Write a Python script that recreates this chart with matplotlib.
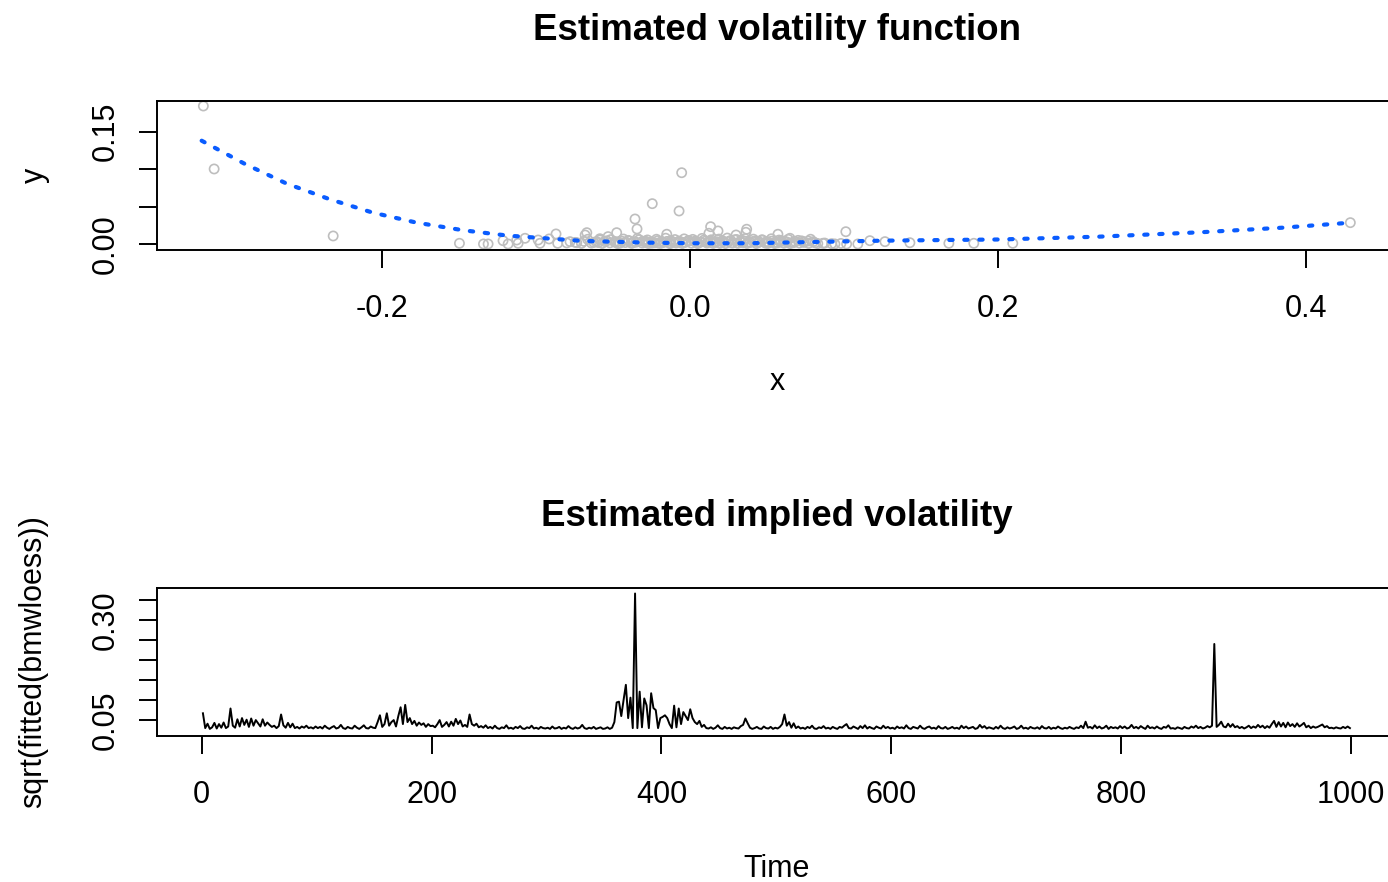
import matplotlib
matplotlib.use("Agg")
import matplotlib.pyplot as plt

W, H = 1388, 882

# --- top panel: x = lagged return, y = squared return
outX = [-0.316, -0.309, -0.2317, -0.1497, -0.1341, -0.1311, -0.1214, -0.1181, -0.1125, -0.1116,
        -0.1071, -0.0986, -0.0974, -0.0915, -0.087, -0.0859, -0.0779, -0.0735, -0.0681, -0.067,
        -0.0584, -0.0532, -0.0476, -0.0357, -0.0344, -0.0245, -0.0151, -0.0071, -0.0054, 0.0123,
        0.0134, 0.0182, 0.0299, 0.0363, 0.0368, 0.0571, 0.0649, 0.0783, 0.0863, 0.0941,
        0.1012, 0.1017, 0.109, 0.1168, 0.1266, 0.1428, 0.1681, 0.1843, 0.2096, 0.4288]
outY = [0.1845, 0.1003, 0.0107, 0.0009, 0.0, 0.0, 0.0044, 0.0, 0.0053, 0.0009,
        0.0076, 0.0053, 0.0009, 0.0067, 0.0134, 0.0009, 0.0031, 0.0017, 0.012, 0.0151,
        0.0053, 0.0098, 0.0151, 0.0334, 0.0201, 0.0539, 0.013, 0.0441, 0.0953, 0.0143,
        0.0231, 0.0174, 0.012, 0.0156, 0.0197, 0.013, 0.0076, 0.0063, 0.0009, 0.0,
        0.0164, 0.0, 0.0, 0.0044, 0.0031, 0.0017, 0.0009, 0.0009, 0.0009, 0.0285]

# the dense grey band near zero
clusterX = [-0.064, -0.061, -0.057, -0.054, -0.052, -0.049, -0.047, -0.044, -0.042, -0.040,
            -0.038, -0.035, -0.033, -0.031, -0.029, -0.027, -0.025, -0.023, -0.021, -0.019,
            -0.017, -0.015, -0.013, -0.011, -0.009, -0.007, -0.005, -0.003, -0.001, 0.001,
            0.003, 0.005, 0.007, 0.009, 0.011, 0.013, 0.015, 0.017, 0.019, 0.021,
            0.023, 0.025, 0.027, 0.029, 0.031, 0.033, 0.035, 0.037, 0.039, 0.041,
            0.043, 0.045, 0.047, 0.049, 0.051, 0.053, 0.055, 0.057, 0.059, 0.061,
            0.063, 0.065, 0.068, 0.071, 0.074, 0.077, 0.080, 0.083,
            -0.0595, -0.0455, -0.0365, -0.0285, -0.0205, -0.0125, -0.0045, 0.0035, 0.0115, 0.0195,
            0.0265, 0.0345, 0.0425, 0.0505, 0.0585, 0.0665, -0.0705, -0.0745, 0.0725, 0.0875,
            0.092, -0.080, 0.098,
            -0.069, -0.0665, -0.0625, -0.0585, -0.0555, -0.0515, -0.0478, -0.0432, -0.0398, -0.0372,
            -0.0342, -0.0308, -0.0276, -0.0248, -0.0218, -0.0186, -0.0158, -0.0132, -0.0098, -0.0072,
            -0.0038, -0.0012, 0.0018, 0.0046, 0.0078, 0.0102, 0.0138, 0.0162, 0.0188, 0.0218,
            0.0242, 0.0278, 0.0302, 0.0328, 0.0358, 0.0388, 0.0412, 0.0442, 0.0468, 0.0498,
            0.0528, 0.0552, 0.0578, 0.0612, 0.0638, 0.0672, 0.0702, 0.0738, 0.0768, 0.0812]
clusterY = [0.0012, 0.0031, 0.0008, 0.0042, 0.0015, 0.0027, 0.0006, 0.0035, 0.0019, 0.0048,
            0.0010, 0.0024, 0.0057, 0.0013, 0.0038, 0.0007, 0.0029, 0.0016, 0.0044, 0.0009,
            0.0021, 0.0034, 0.0005, 0.0026, 0.0014, 0.0039, 0.0008, 0.0022, 0.0046, 0.0011,
            0.0030, 0.0006, 0.0025, 0.0052, 0.0013, 0.0036, 0.0009, 0.0028, 0.0017, 0.0043,
            0.0007, 0.0032, 0.0015, 0.0055, 0.0010, 0.0024, 0.0040, 0.0008, 0.0019, 0.0033,
            0.0006, 0.0027, 0.0049, 0.0012, 0.0021, 0.0037, 0.0007, 0.0016, 0.0045, 0.0011,
            0.0026, 0.0006, 0.0034, 0.0013, 0.0022, 0.0008, 0.0030, 0.0005,
            0.0019, 0.0011, 0.0031, 0.0020, 0.0012, 0.0043, 0.0017, 0.0040, 0.0021, 0.0009,
            0.0047, 0.0016, 0.0041, 0.0008, 0.0029, 0.0018, 0.0008, 0.0021, 0.0041, 0.0012,
            0.0004, 0.0014, 0.0007,
            0.0035, 0.0062, 0.0021, 0.0070, 0.0033, 0.0058, 0.0024, 0.0066, 0.0041, 0.0015,
            0.0072, 0.0036, 0.0054, 0.0012, 0.0063, 0.0030, 0.0077, 0.0018, 0.0059, 0.0026,
            0.0068, 0.0035, 0.0061, 0.0019, 0.0074, 0.0039, 0.0056, 0.0022, 0.0065, 0.0031,
            0.0079, 0.0014, 0.0060, 0.0037, 0.0071, 0.0025, 0.0064, 0.0018, 0.0057, 0.0033,
            0.0069, 0.0021, 0.0052, 0.0038, 0.0062, 0.0017, 0.0048, 0.0027, 0.0039, 0.0015]

# loess fit
fitX = [-0.3171, -0.2890, -0.2619, -0.2338, -0.2060, -0.1775, -0.1472, -0.1180, -0.0995, -0.0695,
        -0.026, 0.002, 0.039, 0.082, 0.125, 0.1666, 0.201, 0.266, 0.331, 0.385, 0.424]
fitY = [0.1381, 0.1070, 0.0807, 0.0597, 0.0419, 0.0285, 0.0183, 0.0111, 0.0084, 0.0040,
        0.0017, 0.001, 0.001, 0.0027, 0.0044, 0.0053, 0.0060, 0.0098, 0.0156, 0.0218, 0.0277]

# --- bottom panel: sqrt(fitted(bmwloess)), one value every 2nd time step
timeIdx = list(range(1, 1000, 2))
vol = [
    .067, .030, .041, .028, .032, .043, .029, .040, .031, .044, .030, .034, .079, .036, .031, .052, .034, .055, .038, .051, .033, .054, .036, .050, .042,
    .034, .052, .036, .044, .038, .033, .036, .030, .035, .064, .037, .031, .043, .032, .041, .030, .033, .029, .034, .031, .036, .030, .032, .029, .034,
    .030, .033, .029, .036, .031, .028, .032, .035, .029, .031, .038, .030, .028, .033, .030, .029, .036, .031, .028, .032, .037, .030, .029, .034, .031,
    .030, .045, .062, .033, .040, .067, .036, .045, .050, .034, .060, .082, .040, .088, .045, .055, .040, .048, .036, .044, .038, .042, .033, .040, .035,
    .036, .032, .040, .050, .033, .038, .045, .034, .046, .036, .053, .040, .049, .034, .038, .033, .064, .040, .036, .041, .032, .035, .031, .037, .030,
    .033, .029, .036, .030, .028, .032, .030, .037, .029, .031, .028, .033, .030, .035, .029, .028, .032, .030, .036, .029, .031, .028, .033, .030, .029,
    .031, .028, .034, .029, .030, .033, .028, .031, .029, .035, .030, .028, .032, .029, .031, .038, .030, .028, .031, .029, .033, .028, .030, .032, .028,
    .029, .032, .028, .031, .045, .094, .096, .060, .100, .138, .055, .106, .030, .366, .030, .121, .032, .104, .087, .030, .117, .080, .075, .030, .055,
    .058, .062, .055, .040, .030, .086, .032, .079, .040, .070, .060, .050, .077, .055, .045, .040, .048, .033, .038, .030, .029, .032, .028, .031, .037,
    .030, .028, .033, .029, .031, .028, .032, .030, .029, .035, .038, .054, .042, .031, .028, .030, .033, .029, .028, .034, .030, .029, .033, .028, .031,
    .029, .033, .040, .064, .036, .045, .031, .042, .030, .034, .029, .031, .028, .033, .030, .036, .029, .028, .032, .030, .035, .029, .031, .028, .033,
    .030, .028, .033, .031, .036, .040, .030, .029, .034, .031, .028, .035, .030, .037, .029, .033, .030, .028, .034, .031, .029, .036, .030, .033, .029,
    .031, .028, .034, .030, .032, .029, .037, .030, .028, .033, .031, .029, .036, .030, .028, .032, .034, .029, .031, .028, .035, .030, .029, .033, .028,
    .030, .033, .029, .031, .028, .036, .030, .034, .029, .031, .033, .028, .030, .038, .031, .035, .029, .032, .030, .028, .033, .029, .036, .030, .028,
    .032, .029, .031, .034, .028, .030, .036, .029, .031, .028, .033, .030, .029, .032, .028, .035, .030, .029, .033, .028, .031, .029, .034, .030, .028,
    .031, .029, .033, .030, .028, .032, .030, .036, .030, .046, .031, .033, .029, .037, .030, .034, .029, .031, .036, .028, .033, .030, .032, .029, .035,
    .030, .034, .029, .031, .038, .030, .033, .029, .035, .031, .028, .036, .030, .032, .029, .034, .030, .028, .033, .031, .037, .029, .030, .028, .032,
    .030, .028, .033, .030, .029, .034, .031, .036, .030, .033, .029, .031, .035, .032, .036, .240, .033, .038, .046, .034, .032, .041, .033, .040, .032,
    .035, .030, .033, .029, .032, .036, .030, .034, .031, .038, .032, .036, .030, .035, .031, .040, .048, .033, .045, .034, .043, .032, .044, .035, .040,
    .033, .042, .034, .038, .043, .032, .036, .030, .034, .031, .033, .036, .039, .032, .035, .030, .031, .029, .032, .030, .029, .033, .030, .034, .030,
]

topXTicks = [-0.2, 0.0, 0.2, 0.4]
topXLabels = ["-0.2", "0.0", "0.2", "0.4"]
topYTicks = [0.0, 0.05, 0.10, 0.15]
topYLabels = ["0.00", "", "", "0.15"]
botXTicks = [0, 200, 400, 600, 800, 1000]
botYTicks = [0.05, 0.10, 0.15, 0.20, 0.25, 0.30, 0.35]
botYLabels = ["0.05", "", "", "", "", "0.30", ""]

plt.rcParams['font.family'] = ['Liberation Sans', 'DejaVu Sans']
plt.rcParams['axes.linewidth'] = 1.4


def fx(px):
    return px / W


def fy(py):
    return 1 - py / H


def styleAxis(ax):
    ax.tick_params(direction='out', length=13, width=1.4, labelsize=22, colors='black')
    ax.tick_params(axis='x', pad=19)
    ax.tick_params(axis='y', pad=13)
    for lab in ax.get_yticklabels():
        lab.set_rotation(90)
        lab.set_va('center')


fig = plt.figure(figsize=(W / 100, H / 100), dpi=100)

# top: estimated volatility function
ax1 = fig.add_axes([fx(157), fy(249.5), fx(1397) - fx(157), fy(101) - fy(249.5)])
ax1.scatter(outX + clusterX, outY + clusterY, s=44, facecolors='none',
            edgecolors='#bebebe', linewidths=1.2, zorder=2)
ax1.plot(fitX, fitY, color='#0a5cff', lw=3, dashes=(0.8, 2.8),
         dash_capstyle='round', zorder=3)
ax1.set_xlim(-0.3461, 0.4591)
ax1.set_ylim(-0.0074, 0.1912)
ax1.set_xticks(topXTicks)
ax1.set_xticklabels(topXLabels)
ax1.set_yticks(topYTicks)
ax1.set_yticklabels(topYLabels)
styleAxis(ax1)

# bottom: estimated implied volatility
ax2 = fig.add_axes([fx(157), fy(736), fx(1397) - fx(157), fy(588) - fy(736)])
ax2.plot(timeIdx, vol, color='black', lw=1.4)
ax2.set_xlim(-38.96, 1039.96)
ax2.set_ylim(0.0103, 0.3797)
ax2.set_xticks(botXTicks)
ax2.set_xticklabels([str(t) for t in botXTicks])
ax2.set_yticks(botYTicks)
ax2.set_yticklabels(botYLabels)
styleAxis(ax2)

fig.text(fx(777), fy(31), "Estimated volatility function", ha='center', va='center',
         fontsize=26.4, fontweight='bold')
fig.text(fx(777), fy(382), "x", ha='center', va='center', fontsize=22)
fig.text(fx(35), fy(175), "y", ha='center', va='center', fontsize=22, rotation=90)

fig.text(fx(777), fy(517), "Estimated implied volatility", ha='center', va='center',
         fontsize=26.4, fontweight='bold')
fig.text(fx(777), fy(869), "Time", ha='center', va='center', fontsize=22)
fig.text(fx(33), fy(662), "sqrt(fitted(bmwloess))", ha='center', va='center',
         fontsize=22, rotation=90)

fig.savefig("out.png", dpi=100)
